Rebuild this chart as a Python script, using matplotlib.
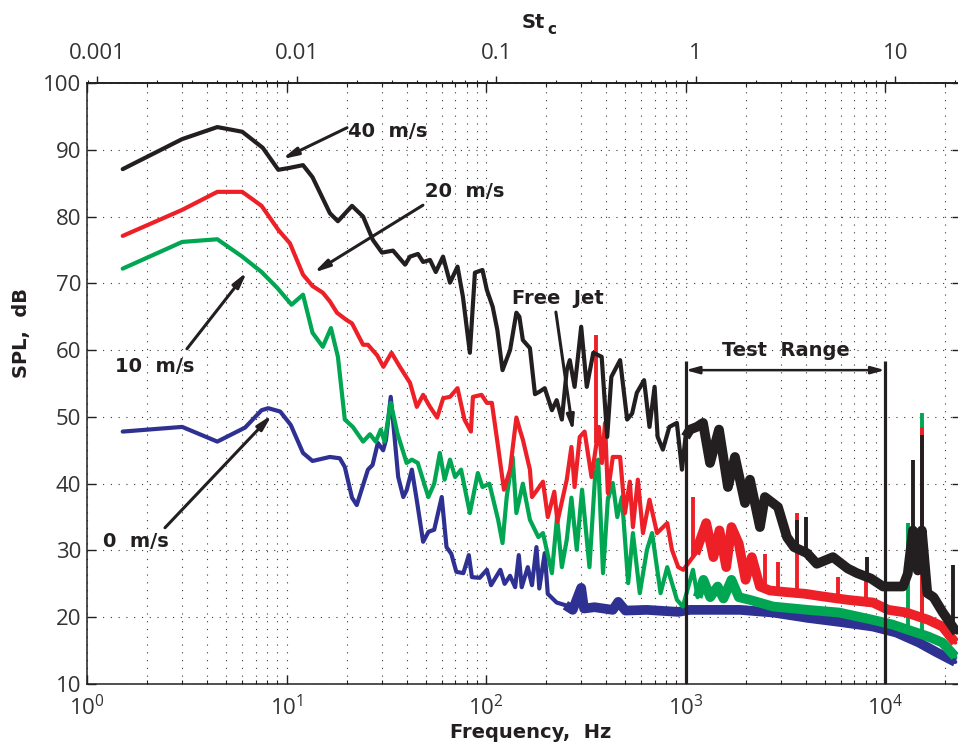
import numpy as np
import matplotlib
matplotlib.use("Agg")
import matplotlib.pyplot as plt
from matplotlib.ticker import LogLocator, NullFormatter

# ---------------- data ----------------
black_f = [1.51, 3.0, 4.5, 6.0, 7.6, 9.1, 10.4, 12.1, 13.5, 16.5,
           18.1, 21.3, 24.2, 27.1, 30.1, 34.2, 39.3, 41.6, 45.6, 48.4,
           52.4, 56.0, 60.9, 66.0, 72.0, 76.6, 83.0, 88.0, 96.0, 101,
           108, 114, 121, 132, 142, 147, 153, 166, 176, 186,
           197, 214, 226, 240, 254, 263, 278, 285, 300, 320,
           345, 380, 405, 425, 470, 510, 540, 570, 620, 660,
           700, 725, 770, 830, 905, 960, 1000, 1054, 1140, 1224,
           1327, 1472, 1632, 1770, 1987, 2104, 2361, 2500, 2908, 3225,
           3500, 4064, 4550, 5483, 6500, 7240, 8500, 9770, 12300, 13000,
           13800, 14600, 15300, 16300, 17500, 19500, 22900]
black_db = [87.1, 91.6, 93.4, 92.7, 90.3, 87.0, 87.3, 87.7, 85.9, 80.5,
            79.3, 81.6, 80.0, 76.5, 74.6, 74.9, 72.8, 74.0, 74.4, 73.2,
            73.5, 71.7, 74.0, 70.1, 72.5, 68.0, 59.6, 71.6, 72.0, 69.0,
            66.5, 63.0, 57.0, 60.0, 65.6, 65.0, 61.5, 60.3, 53.4, 53.8,
            54.3, 51.0, 52.5, 49.6, 57.0, 58.5, 54.5, 57.3, 63.5, 54.5,
            59.6, 59.0, 47.0, 56.0, 58.5, 49.6, 50.5, 53.6, 55.5, 48.5,
            54.5, 47.0, 45.1, 48.5, 49.1, 42.1, 47.0, 48.1, 48.5, 49.1,
            43.1, 48.1, 39.5, 44.0, 37.1, 40.6, 33.5, 38.0, 36.5, 32.0,
            30.5, 29.6, 28.0, 29.0, 27.3, 26.6, 25.8, 24.6, 24.6, 26.5,
            33.0, 27.0, 33.0, 23.6, 23.0, 20.7, 17.7]
black_spike_f = [3620, 4000, 8100, 13800, 15300, 21900]
black_spike_db = [34.6, 35.0, 29.0, 43.6, 47.3, 27.8]

red_f = [1.51, 3.0, 4.5, 6.0, 7.5, 9.1, 10.4, 12.1, 13.5, 15.2,
         16.5, 17.9, 20.0, 21.3, 24.2, 25.6, 28.5, 30.6, 33.6, 37.0,
         41.6, 45.0, 48.4, 52.4, 56.9, 61.0, 66.0, 72.0, 78.0, 84.0,
         86.0, 95.0, 101, 107, 115, 123, 132, 142, 148, 153,
         166, 170, 176, 193, 204, 220, 228, 254, 268, 278,
         295, 312, 338, 368, 381, 395, 408, 432, 470, 497,
         526, 545, 577, 612, 660, 720, 810, 855, 920, 975,
         1120, 1270, 1380, 1480, 1600, 1700, 1850, 2000, 2150, 2360,
         2650, 3100, 4000, 4900, 6500, 8700, 10400, 12800, 16500, 19400,
         22500]
red_db = [77.1, 81.0, 83.7, 83.7, 81.6, 78.0, 76.0, 71.3, 69.6, 68.6,
          67.3, 65.6, 64.5, 64.0, 60.8, 60.8, 59.2, 57.5, 59.6, 57.5,
          55.1, 51.5, 53.3, 51.5, 49.9, 52.8, 53.0, 54.3, 49.6, 47.8,
          53.0, 53.3, 52.1, 52.1, 45.5, 39.1, 42.1, 49.9, 48.0, 46.6,
          42.1, 38.0, 38.6, 40.3, 35.0, 38.8, 34.3, 40.6, 45.5, 39.5,
          47.0, 47.8, 41.0, 48.5, 43.1, 49.1, 38.6, 44.0, 44.0, 35.6,
          40.3, 33.5, 40.6, 32.6, 37.6, 32.6, 34.1, 30.1, 27.5, 27.1,
          29.5, 34.1, 29.0, 33.0, 27.5, 33.5, 31.0, 25.6, 29.0, 24.6,
          24.0, 23.8, 23.5, 23.1, 22.6, 22.2, 21.1, 20.7, 19.6, 18.6,
          16.2]
red_spike_f = [358, 1090, 2500, 2900, 3620, 5800, 8000, 15300]
red_spike_db = [62.3, 38.0, 29.5, 28.3, 35.6, 26.0, 26.0, 48.5]

green_f = [1.51, 3.0, 4.5, 6.0, 7.5, 9.0, 10.6, 12.1, 13.5, 15.2,
           16.7, 18.1, 19.6, 21.5, 24.2, 26.2, 28.0, 29.7, 31.0, 33.3,
           36.0, 40.0, 42.5, 45.5, 51.4, 55.0, 58.7, 62.0, 66.0, 70.0,
           75.0, 83.0, 91.0, 96.0, 104, 115, 121, 127, 136, 142,
           153, 166, 183, 193, 214, 227, 240, 254, 268, 285,
           303, 330, 352, 365, 386, 408, 432, 455, 480, 516,
           545, 590, 641, 680, 750, 810, 906, 970, 1090, 1150,
           1230, 1330, 1450, 1550, 1700, 1850, 2100, 2750, 4100, 5900,
           8700, 10900, 14700, 16500, 19400, 22500]
green_db = [72.2, 76.2, 76.6, 74.0, 71.7, 69.3, 66.8, 68.3, 62.6, 60.5,
            63.3, 59.0, 49.6, 48.5, 46.3, 47.4, 46.3, 48.1, 46.3, 52.1,
            47.5, 43.1, 43.6, 43.1, 38.0, 40.0, 44.6, 40.6, 43.6, 41.0,
            42.1, 35.6, 41.6, 39.5, 40.0, 34.6, 31.1, 38.0, 44.0, 35.6,
            40.0, 34.6, 32.0, 32.6, 26.6, 35.0, 27.5, 31.6, 37.9, 30.1,
            39.1, 27.5, 41.0, 43.6, 26.6, 37.6, 40.1, 35.0, 38.0, 25.1,
            32.6, 23.6, 30.1, 32.6, 23.6, 27.5, 22.6, 21.6, 27.1, 23.0,
            25.6, 23.0, 24.6, 22.8, 25.6, 23.0, 22.6, 21.6, 21.1, 20.7,
            19.6, 18.9, 17.6, 17.1, 16.2, 14.1]
green_spike_f = [13000, 15300]
green_spike_db = [34.1, 50.6]

blue_f = [1.51, 3.0, 4.5, 6.2, 7.5, 8.1, 9.3, 10.5, 12.1, 13.5,
          16.5, 18.5, 19.6, 21.3, 22.5, 25.6, 27.0, 28.7, 30.5, 31.5,
          33.3, 34.8, 36.3, 38.5, 40.0, 42.5, 45.0, 48.4, 51.5, 55.0,
          60.0, 63.4, 67.0, 71.0, 77.0, 82.0, 85.0, 93.0, 101, 106,
          118, 124, 132, 140, 146, 151, 162, 170, 179, 185,
          197, 204, 226, 250, 272, 300, 310, 350, 432, 460,
          500, 640, 920, 1050, 1880, 2750, 4100, 5900, 8700, 11400,
          14800, 18000, 22500]
blue_db = [47.8, 48.5, 46.3, 48.4, 51.0, 51.3, 50.8, 48.8, 44.6, 43.4,
           44.0, 43.8, 42.5, 37.9, 36.8, 42.1, 42.8, 46.1, 45.0, 46.5,
           53.0, 47.0, 41.0, 38.0, 39.0, 42.1, 37.5, 31.3, 32.8, 33.1,
           38.0, 30.5, 29.5, 26.8, 26.6, 29.3, 26.0, 25.9, 27.1, 24.8,
           27.1, 25.0, 26.2, 24.5, 29.3, 24.5, 27.5, 24.8, 30.5, 24.3,
           29.6, 23.5, 22.2, 21.8, 21.1, 24.4, 21.3, 21.5, 21.1, 22.3,
           21.0, 21.1, 20.8, 21.1, 21.1, 20.7, 19.9, 19.3, 18.6, 17.7,
           16.2, 14.8, 13.3]
blue_spike_f = []
blue_spike_db = []

top_ticks = [0.001, 0.01, 0.1, 1, 10]
top_labels = ["0.001", "0.01", "0.1", "1", "10"]
bottom_ticks = [1, 10, 100, 1000, 10000]
bottom_labels = [r"$\mathregular{10^{%d}}$" % i for i in range(5)]
y_ticks = list(range(10, 101, 10))
st_factor = 1125.0   # Hz per unit St_c

# ---------------- styling ----------------
plt.rcParams["font.family"] = ["Open Sans", "DejaVu Sans"]
BOLD = dict(family="DejaVu Sans", fontweight="bold", fontsize=14, color="#231f20")
C_BLACK = "#231f20"
C_RED = "#ed2028"
C_GREEN = "#00a651"
C_BLUE = "#2e3192"
TICK_C = "#333333"

W, H = 958, 751
fig = plt.figure(figsize=(W / 100, H / 100), dpi=100)
ax = fig.add_axes([87 / W, 67 / H, 874 / W, 601 / H])
ax.set_xscale("log")
ax.set_xlim(1, 10 ** (874 / 199.5))
ax.set_ylim(10, 100)

ax.set_xticks(bottom_ticks, labels=bottom_labels)
ax.xaxis.set_minor_locator(LogLocator(base=10, subs=np.arange(2, 10)))
ax.xaxis.set_minor_formatter(NullFormatter())
ax.set_yticks(y_ticks)
ax.tick_params(which="both", direction="in", top=True, right=True,
               labelsize=16, labelcolor=TICK_C, color="#231f20")
ax.tick_params(which="major", length=6.5, width=1.0)
ax.tick_params(which="minor", length=3, width=0.8)
ax.tick_params(axis="x", pad=8)
ax.tick_params(axis="y", pad=4)
for s in ax.spines.values():
    s.set_linewidth(1.1)
    s.set_color("#231f20")

ax.grid(True, which="major", axis="both", linestyle=(0, (1, 6)),
        color="#3a3a3a", linewidth=0.8)
ax.grid(True, which="minor", axis="x", linestyle=(0, (1, 6)),
        color="#3a3a3a", linewidth=0.8)
ax.set_axisbelow(True)

secax = ax.secondary_xaxis("top", functions=(lambda f: f / st_factor,
                                              lambda s: s * st_factor))
secax.set_xticks(top_ticks, labels=top_labels)
secax.xaxis.set_minor_locator(LogLocator(base=10, subs=np.arange(2, 10)))
secax.xaxis.set_minor_formatter(NullFormatter())
secax.tick_params(which="both", direction="out", labelsize=16,
                  labelcolor=TICK_C, color="#231f20", pad=9)
secax.tick_params(which="major", length=5, width=1.0)
secax.tick_params(which="minor", length=2.5, width=0.8)
secax.spines["top"].set_linewidth(1.1)


def draw(f, db, sf, sdb, color, band_from, z):
    f = np.asarray(f, float)
    db = np.asarray(db, float)
    ax.plot(f, db, color=color, lw=3.0, solid_joinstyle="round",
            solid_capstyle="round", zorder=z)
    m = f >= band_from
    ax.plot(f[m], db[m], color=color, lw=7.0, solid_joinstyle="round",
            solid_capstyle="butt", zorder=z)
    if len(sf):
        sf = np.asarray(sf, float)
        base = np.interp(np.log10(sf), np.log10(f), db)
        ax.vlines(sf, base, sdb, color=color, lw=2.8, zorder=z)


draw(blue_f, blue_db, blue_spike_f, blue_spike_db, C_BLUE, 230, 3)
draw(green_f, green_db, green_spike_f, green_spike_db, C_GREEN, 1100, 4)
draw(red_f, red_db, red_spike_f, red_spike_db, C_RED, 1100, 5)
draw(black_f, black_db, black_spike_f, black_spike_db, C_BLACK, 1000, 6)

# ---------------- annotations ----------------
AP = dict(arrowstyle="-|>,head_length=0.9,head_width=0.22", color=C_BLACK,
          lw=2.2, shrinkA=0, shrinkB=0)


def label_arrow(text, txy, tail, head):
    ax.text(txy[0], txy[1], text, ha="left", va="center", zorder=10, **BOLD)
    ax.annotate("", xy=head, xytext=tail, arrowprops=AP, zorder=10)


label_arrow("40  m/s", (20.3, 92.7), (20.1, 93.3), (9.5, 88.6))
label_arrow("20  m/s", (49.4, 83.7), (48.3, 81.7), (13.7, 71.6))
label_arrow("10  m/s", (1.38, 57.6), (3.17, 60.2), (6.34, 71.7))
label_arrow("0  m/s", (1.2, 31.3), (2.46, 33.4), (8.46, 50.3))
label_arrow("Free  Jet", (135, 67.8), (224, 65.7), (273, 47.8))

ax.vlines([1000, 10000], 10, 58.4, color=C_BLACK, lw=2.3, zorder=9)
ax.annotate("", xy=(10000, 57.0), xytext=(1000, 57.0), zorder=10,
            arrowprops=dict(arrowstyle="<|-|>,head_length=0.8,head_width=0.22",
                            color=C_BLACK, lw=1.8, shrinkA=0, shrinkB=0))
ax.text(3190, 59.9, "Test  Range", ha="center", va="center", zorder=10, **BOLD)

fig.text(22 / W, 1 - 333 / H, "SPL,  dB", rotation=90, ha="center",
         va="center", **BOLD)
fig.text(531 / W, 1 - 733 / H, "Frequency,  Hz", ha="center", va="center", **BOLD)
fig.text(522 / W, 1 - 22 / H, "St", ha="left", va="center", **BOLD)
fig.text(547 / W, 1 - 30 / H, "c", ha="left", va="center",
         family="DejaVu Sans", fontweight="bold", fontsize=11, color="#231f20")

fig.savefig("out.png", dpi=100)
